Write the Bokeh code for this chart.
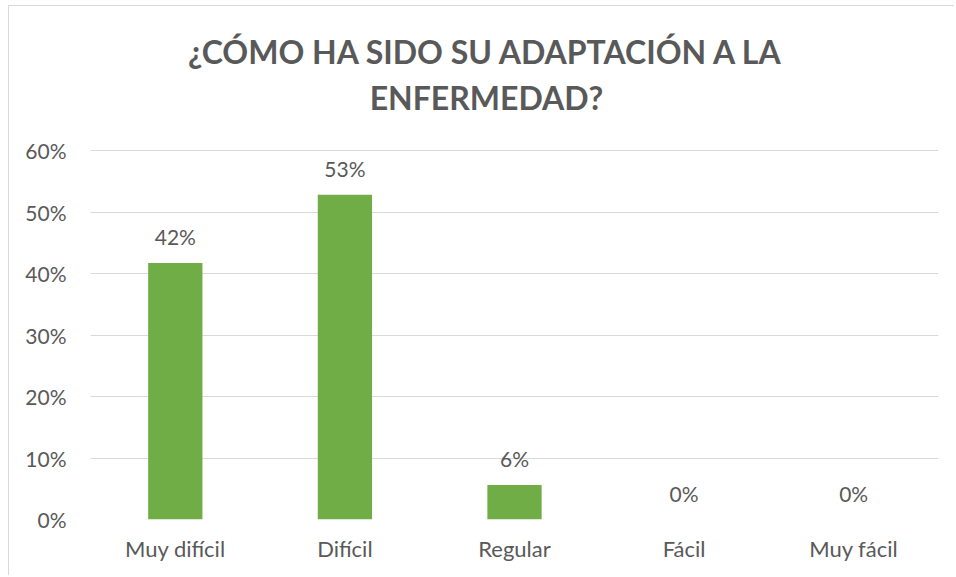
from bokeh.plotting import figure
from bokeh.models import (Range1d, FactorRange, FixedTicker, NumeralTickFormatter,
                          ColumnDataSource, LabelSet)
from bokeh.core.properties import value
from bokeh.embed import file_html
from bokeh.resources import INLINE

categories = ["Muy difícil", "Difícil", "Regular", "Fácil", "Muy fácil"]
values = [0.417, 0.528, 0.056, 0.0, 0.0]
y_ticks = [0.0, 0.1, 0.2, 0.3, 0.4, 0.5, 0.6]
title_lines = ["¿CÓMO HA SIDO SU ADAPTACIÓN A LA", "ENFERMEDAD?"]

FONT = "Lato"
GRAY = "#595959"

# layout (pixels)
W, H = 946, 570
PLOT_TOP = 144          # pixel row of the top tick (0.6) inside the canvas
PLOT_BOTTOM = 513       # pixel row of 0
LEFT, RIGHT = 81, 17
frame_h = PLOT_BOTTOM
y_end = max(y_ticks) * frame_h / (PLOT_BOTTOM - PLOT_TOP)

labels = [f"{round(v * 100)}%" for v in values]
source = ColumnDataSource(data=dict(cat=categories, val=values, lab=labels))

p = figure(x_range=FactorRange(*categories), y_range=Range1d(0, y_end),
           width=W, height=H, output_backend="svg", toolbar_location=None,
           min_border_left=LEFT, min_border_right=RIGHT, min_border_top=0,
           min_border_bottom=H - PLOT_BOTTOM)
p.outline_line_color = None
p.styles = {"margin-left": "8px", "margin-top": "5px",
            "border-left": "1px solid #D9D9D9", "border-top": "1px solid #D9D9D9"}

p.vbar(x="cat", top="val", width=0.32, source=source, fill_color="#70AD47",
       line_color=None)

p.add_layout(LabelSet(x="cat", y="val", text="lab", source=source,
                      text_align="center", text_baseline="alphabetic",
                      y_offset=18, text_font=value(FONT), text_font_size="21px",
                      text_color=GRAY))

# chart title, placed relative to the top tick
mid = categories[len(categories) // 2]
p.text(x=[mid, mid], y=[max(y_ticks)] * 2, text=title_lines,
       x_offset=-28, y_offset=[-99, -53],
       text_align="center", text_baseline="alphabetic",
       text_font=value(FONT), text_font_size="32px", text_font_style="bold",
       text_color=GRAY)

p.xgrid.grid_line_color = None
p.ygrid.grid_line_color = "#D9D9D9"
p.ygrid.grid_line_width = 1
p.ygrid.ticker = FixedTicker(ticks=y_ticks)

p.yaxis.ticker = FixedTicker(ticks=y_ticks)
p.yaxis.formatter = NumeralTickFormatter(format="0%")
for ax in (p.xaxis[0], p.yaxis[0]):
    ax.axis_line_color = None
    ax.major_tick_line_color = None
    ax.minor_tick_line_color = None
    ax.major_label_text_font = FONT
    ax.major_label_text_color = GRAY
p.yaxis.major_label_text_font_size = "21px"
p.xaxis.major_label_text_font_size = "22px"
p.yaxis.major_label_standoff = 18
p.xaxis.major_label_standoff = 9

open("out.html", "w").write(file_html(p, INLINE))
